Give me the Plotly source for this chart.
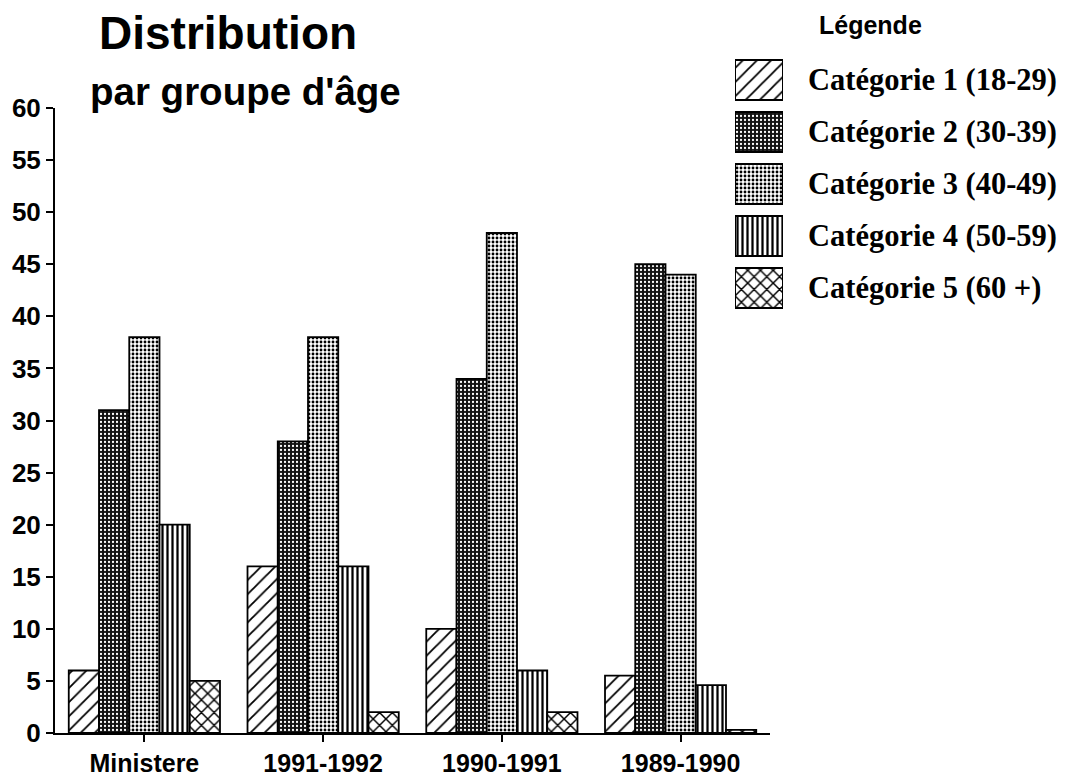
import plotly.graph_objects as go

groups = ["Ministere", "1991-1992", "1990-1991", "1989-1990"]
series_names = ["Catégorie 1 (18-29)", "Catégorie 2 (30-39)", "Catégorie 3 (40-49)",
                "Catégorie 4 (50-59)", "Catégorie 5 (60 +)"]
cat1 = [6, 16, 10, 5.5]
cat2 = [31, 28, 34, 45]
cat3 = [38, 38, 48, 44]
cat4 = [20, 16, 6, 4.6]
cat5 = [5, 2, 2, 0.3]
values = [cat1, cat2, cat3, cat4, cat5]

# hatch styles, one per category
patterns = [
    dict(shape="/", fgcolor="black", bgcolor="white", size=10, solidity=0.18),
    dict(shape=".", fgcolor="white", bgcolor="#111111", size=4, solidity=0.25),
    dict(shape=".", fgcolor="black", bgcolor="white", size=4, solidity=0.4),
    dict(shape="|", fgcolor="black", bgcolor="white", size=5, solidity=0.45),
    dict(shape="x", fgcolor="black", bgcolor="white", size=9, solidity=0.3),
]

W, H = 1069, 781
OFF = 8  # page body margin in the browser
sans = "Liberation Sans"
serif = "Liberation Serif"


def px(x):
    return (x - OFF) / W


def py(y):
    return 1 - (y - OFF) / H


fig = go.Figure()
for name, vals, pat in zip(series_names, values, patterns):
    fig.add_trace(go.Bar(
        x=groups, y=vals, name=name,
        marker=dict(color="white", pattern=dict(fillmode="replace", **pat),
                    line=dict(color="black", width=1.8)),
        showlegend=False,
    ))

# custom legend: swatches drawn as bars on a small side axis
fig.add_trace(go.Bar(
    y=series_names, x=[1] * len(series_names), orientation="h",
    xaxis="x2", yaxis="y2", width=0.77, showlegend=False, hoverinfo="skip",
    marker=dict(
        color="white",
        pattern=dict(
            fillmode="replace",
            shape=[p["shape"] for p in patterns],
            fgcolor=[p["fgcolor"] for p in patterns],
            bgcolor=[p["bgcolor"] for p in patterns],
            size=[p["size"] for p in patterns],
            solidity=[p["solidity"] for p in patterns],
        ),
        line=dict(color="black", width=2),
    ),
))

annotations = [
    dict(text="<b>Distribution</b>", x=px(97), y=py(33), xref="paper", yref="paper",
         xanchor="left", yanchor="middle", showarrow=False,
         font=dict(family=sans, size=46, color="black")),
    dict(text="<b>par groupe d'âge</b>", x=px(88), y=py(91), xref="paper", yref="paper",
         xanchor="left", yanchor="middle", showarrow=False,
         font=dict(family=sans, size=38.5, color="black")),
    dict(text="<b>Légende</b>", x=px(870), y=py(25), xref="paper", yref="paper",
         xanchor="center", yanchor="middle", showarrow=False,
         font=dict(family=sans, size=25, color="black")),
]
for name in series_names:
    annotations.append(dict(
        text="<b>%s</b>" % name, x=px(806), y=name, xref="paper", yref="y2",
        xanchor="left", yanchor="middle", showarrow=False,
        font=dict(family=serif, size=30.5, color="black")))

fig.update_layout(
    width=W, height=H,
    margin=dict(l=0, r=0, t=0, b=0),
    paper_bgcolor="white", plot_bgcolor="rgba(0,0,0,0)",
    barmode="group", bargap=0.154, bargroupgap=0,
    font=dict(family=sans, color="black"),
    annotations=annotations,
    xaxis=dict(
        domain=[px(55), px(770)], range=[-0.5, 3.5], automargin=False,
        showline=True, linecolor="black", linewidth=2,
        ticks="outside", ticklen=7, tickwidth=2, tickcolor="black",
        showgrid=False, zeroline=False,
        tickfont=dict(family=sans, size=25, color="black", weight="bold"),
    ),
    yaxis=dict(
        domain=[py(733), py(108)], range=[0, 60], dtick=5, automargin=False,
        showline=True, linecolor="black", linewidth=2,
        ticks="outside", ticklen=7, tickwidth=2, tickcolor="black",
        showgrid=False, zeroline=False,
        tickfont=dict(family=sans, size=26, color="black", weight="bold"),
    ),
    xaxis2=dict(domain=[px(735), px(783)], range=[0, 1], visible=False, anchor="y2"),
    yaxis2=dict(domain=[py(314), py(54)], visible=False, anchor="x2",
                type="category", categoryorder="array", categoryarray=series_names,
                autorange="reversed"),
)

fig.write_html("out.html")
